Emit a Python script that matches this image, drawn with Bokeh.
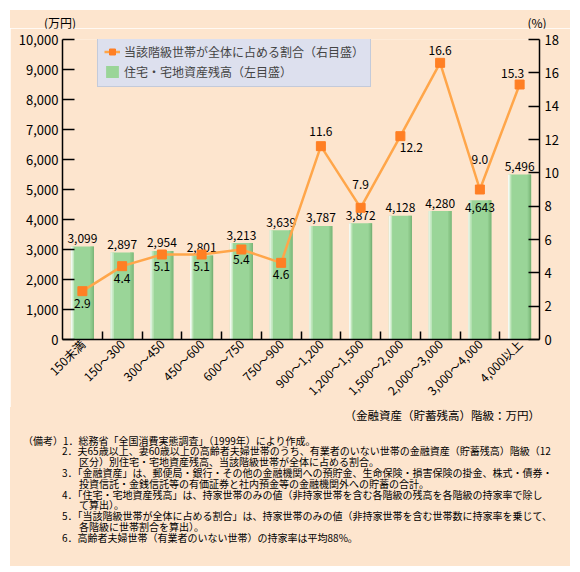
import math
from bokeh.plotting import figure
from bokeh.layouts import column
from bokeh.models import (Range1d, LinearAxis, FixedTicker, Div,
                          NumeralTickFormatter, Legend, LegendItem)
from bokeh.core.properties import value
from bokeh.embed import file_html
from bokeh.resources import INLINE

# ---------------- data ----------------
categories = ["150未満", "150〜300", "300〜450", "450〜600", "600〜750", "750〜900",
              "900〜1,200", "1,200〜1,500", "1,500〜2,000", "2,000〜3,000",
              "3,000〜4,000", "4,000以上"]
housing_assets = [3099, 2897, 2954, 2801, 3213, 3639, 3787, 3872, 4128, 4280, 4643, 5496]
share_pct = [2.9, 4.4, 5.1, 5.1, 5.4, 4.6, 11.6, 7.9, 12.2, 16.6, 9.0, 15.3]

left_ticks = list(range(0, 10001, 1000))
right_ticks = list(range(0, 19, 2))

series_line_name = "当該階級世帯が全体に占める割合（右目盛）"
series_bar_name = "住宅・宅地資産残高（左目盛）"
left_unit = "(万円)"
right_unit = "(%)"
x_title = "（金融資産（貯蓄残高）階級：万円）"

notes_head = "（備考）"
notes = [
    ("1．", "総務省「全国消費実態調査」（1999年）により作成。"),
    ("2．", "夫65歳以上、妻60歳以上の高齢者夫婦世帯のうち、有業者のいない世帯の金融資産（貯蓄残高）階級（12"),
    ("", "区分）別住宅・宅地資産残高、当該階級世帯が全体に占める割合。"),
    ("3．", "「金融資産」は、郵便局・銀行・その他の金融機関への預貯金、生命保険・損害保険の掛金、株式・債券・"),
    ("", "投資信託・金銭信託等の有価証券と社内預金等の金融機関外への貯蓄の合計。"),
    ("4．", "「住宅・宅地資産残高」は、持家世帯のみの値（非持家世帯を含む各階級の残高を各階級の持家率で除し"),
    ("", "て算出）。"),
    ("5．", "「当該階級世帯が全体に占める割合」は、持家世帯のみの値（非持家世帯を含む世帯数に持家率を乗じて、"),
    ("", "各階級に世帯割合を算出）。"),
    ("6．", "高齢者夫婦世帯（有業者のいない世帯）の持家率は平均88%。"),
]

# ---------------- styling ----------------
FONT_NAME = "Noto Sans CJK JP"
FONT = value(FONT_NAME)
BG = "#FDE5CE"
BAR = "#9AD598"
LINE = "#FFA64A"
MARK = "#FF7F24"

# label placement (pixels) for the percentage labels and bar labels
pct_dx = [0, 0, 0, 0, 0, 0, 0, 0, 11, 0, 0, -7]
pct_dy = [12, 12, 12, 12, 10, 12, -15, -23, 11, -12, -30, -11]
bar_dy = [-8] * 12
bar_dy[10] = 7

n = len(categories)
xs = [i + 0.5 for i in range(n)]
FRAME_W = 477
px = n / FRAME_W  # data units per pixel on x
W = 560
HEAD_H = 18
FIG_H = 375
NOTES_H = 552 - HEAD_H - FIG_H

p = figure(width=W, height=FIG_H, frame_width=FRAME_W, frame_height=300,
           x_range=Range1d(0, n), y_range=Range1d(0, 10000),
           output_backend="svg", toolbar_location=None,
           min_border_left=52, min_border_right=31, min_border_top=11, min_border_bottom=64,
           background_fill_color=BG, border_fill_color=BG, outline_line_color=None)
p.xgrid.visible = False
p.ygrid.visible = False
p.extra_y_ranges = {"pct": Range1d(0, 18)}

# ---------------- bars with pseudo gradient ----------------
bar_w = 0.58
main_bar = p.vbar(x=xs, top=housing_assets, width=bar_w, fill_color=BAR, line_color=None)
strips = [(-11.5, 1.0, "#FFFFFF"), (-10.5, 1.0, "#EAF7E8"), (-9.5, 1.2, "#C4E8C1"),
          (8.0, 1.2, "#8FCB8C"), (9.2, 1.2, "#85C182"), (10.4, 1.1, "#78B375")]
for off, w, c in strips:
    p.vbar(x=[x + (off + w / 2) * px for x in xs], top=housing_assets, width=w * px,
           fill_color=c, line_color=None)

# bar value labels
p.text(x=xs, y=housing_assets, text=[f"{v:,}" for v in housing_assets],
       y_offset=bar_dy, text_align="center", text_baseline="middle",
       text_font=FONT, text_font_size="12px", text_color="black")

# ---------------- line on right axis ----------------
line_r = p.line(x=xs, y=share_pct, y_range_name="pct", line_color=LINE, line_width=2.5)
mark_r = p.scatter(x=xs, y=share_pct, y_range_name="pct", marker="square", size=9,
                   fill_color=MARK, line_color=MARK)
p.text(x=xs, y=share_pct, y_range_name="pct", text=[f"{v:.1f}" for v in share_pct],
       x_offset=pct_dx, y_offset=pct_dy, text_align="center", text_baseline="middle",
       text_font=FONT, text_font_size="12px", text_color="black")

# ---------------- axes ----------------
p.xaxis.visible = False
p.yaxis.visible = False

xaxis = LinearAxis(ticker=FixedTicker(ticks=xs, minor_ticks=list(range(1, n))),
                   major_label_overrides={x: c for x, c in zip(xs, categories)},
                   major_label_orientation=math.pi / 4,
                   major_tick_in=0, major_tick_out=0,
                   minor_tick_in=8, minor_tick_out=0,
                   axis_line_color="black", axis_line_width=1.5,
                   minor_tick_line_color="black", minor_tick_line_width=1.5,
                   major_label_text_font=FONT_NAME, major_label_text_font_size="12px",
                   major_label_text_color="black", major_label_standoff=2)
p.add_layout(xaxis, "below")

yl = LinearAxis(ticker=FixedTicker(ticks=left_ticks), formatter=NumeralTickFormatter(format="0,0"),
                major_tick_in=12, major_tick_out=0, minor_tick_in=0, minor_tick_out=0,
                axis_line_color="black", axis_line_width=1.5,
                major_tick_line_color="black", major_tick_line_width=1.5,
                major_label_text_font=FONT_NAME, major_label_text_font_size="13px",
                major_label_text_color="black", major_label_standoff=4)
p.add_layout(yl, "left")

yr = LinearAxis(y_range_name="pct", ticker=FixedTicker(ticks=right_ticks),
                major_tick_in=11, major_tick_out=0, minor_tick_in=0, minor_tick_out=0,
                axis_line_color="black", axis_line_width=1.5,
                major_tick_line_color="black", major_tick_line_width=1.5,
                major_label_text_font=FONT_NAME, major_label_text_font_size="13px",
                major_label_text_color="black", major_label_standoff=5)
p.add_layout(yr, "right")

# ---------------- legend ----------------
legend = Legend(items=[LegendItem(label=series_line_name, renderers=[line_r, mark_r]),
                       LegendItem(label=series_bar_name, renderers=[main_bar])],
                location=(35, 252), orientation="vertical",
                background_fill_color="#DDE0EE", background_fill_alpha=1,
                border_line_color="#A9B3C6", border_line_width=1.5,
                label_text_font=FONT_NAME, label_text_font_size="12px",
                glyph_width=16, glyph_height=15, label_height=15, spacing=3,
                padding=6, margin=0, label_standoff=4)
p.add_layout(legend)

# ---------------- texts outside the plot frame (HTML divs) ----------------
# coordinates below are page pixels; the layout starts at page (10, 10)
def span(text, left, center_y, size, align="left"):
    h = size
    top = center_y - h / 2
    if align == "left":
        pos = f"left:{left}px;"
    elif align == "right":
        pos = f"right:{W - left}px;"
    else:
        pos = f"left:{left - 100}px;width:200px;text-align:center;"
    return (f'<span style="position:absolute;{pos}top:{top:.2f}px;white-space:nowrap;'
            f'font-size:{size}px;line-height:{h}px;">{text}</span>')

def box(inner, height):
    return (f'<div style="position:relative;width:{W}px;height:{height}px;'
            f"font-family:'{FONT_NAME}';color:black;\">{inner}</div>")

header_html = span(left_unit, 50, 13, 12, "center") + span(right_unit, 527, 13, 12, "center")
header = Div(text=box(header_html, HEAD_H), width=W, height=HEAD_H, margin=0,
             styles={"background-color": BG})

ORG = 10 + HEAD_H + FIG_H  # page y where the notes div starts
notes_html = span(x_title, 530, 412 - ORG, 11.5, "right")

# notes as one multi-line text block
first_y, pitch, block_left = 437, 10.8, 13


def spacer(w):
    return f'<span style="display:inline-block;width:{w}px;"></span>'


rows = []
for idx, (num, txt) in enumerate(notes):
    if idx == 0:
        rows.append(notes_head + num + txt)
    elif num:
        rows.append(spacer(52 - block_left) + num + txt)
    else:
        rows.append(spacer(69 - block_left) + txt)
notes_html += (f'<div style="position:absolute;left:{block_left}px;'
               f'top:{first_y - pitch / 2 - ORG:.2f}px;font-size:10px;line-height:{pitch}px;'
               f'white-space:nowrap;">' + "<br>".join(rows) + "</div>")

notes_div = Div(text=box(notes_html, NOTES_H), width=W, height=NOTES_H, margin=0,
                styles={"background-color": BG})

layout = column(header, p, notes_div, spacing=0, margin=(10, 0, 0, 10))

open("out.html", "w").write(file_html(layout, INLINE))
